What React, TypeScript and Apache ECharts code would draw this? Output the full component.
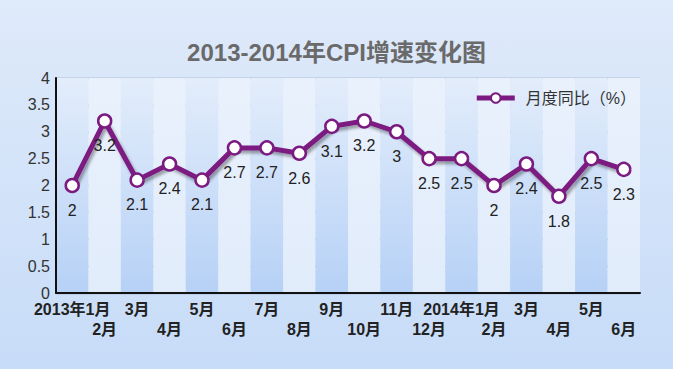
import React, { useEffect, useRef } from "react";
import * as echarts from "echarts";

const categories = [
  "2013年1月", "2月", "3月", "4月", "5月", "6月", "7月", "8月", "9月",
  "10月", "11月", "12月", "2014年1月", "2月", "3月", "4月", "5月", "6月",
];
const cpiValues = [2, 3.2, 2.1, 2.4, 2.1, 2.7, 2.7, 2.6, 3.1, 3.2, 3, 2.5, 2.5, 2, 2.4, 1.8, 2.5, 2.3];
const seriesName = "月度同比（%）";
const titleText = "2013-2014年CPI增速变化图";

export default function App() {
  const ref = useRef<HTMLDivElement>(null);
  useEffect(() => {
    if (!ref.current) return;
    const chart = echarts.init(ref.current, null, { renderer: "svg" });
    const G = echarts.graphic.LinearGradient;
    chart.setOption({
      animation: false,
      backgroundColor: new G(0, 0, 0, 1, [
        { offset: 0, color: "#dfeafa" },
        { offset: 1, color: "#c7dcf8" },
      ]),
      title: {
        text: titleText,
        left: "center",
        top: 35,
        textStyle: {
          fontFamily: "Liberation Sans, Noto Sans CJK SC",
          fontSize: 24,
          fontWeight: "bold",
          color: "#6a6a6a",
        },
      },
      legend: {
        right: 32,
        top: 85,
        itemWidth: 38,
        itemHeight: 12,
        itemGap: 12,
        lineStyle: { width: 5, color: "#7b1a80" },
        textStyle: {
          fontFamily: "Liberation Sans, Noto Sans CJK SC",
          fontSize: 16,
          color: "#333",
          padding: [0, 0, 0, 6],
        },
        data: [seriesName],
      },
      grid: { left: 56, right: 33, top: 78, bottom: 76 },
      xAxis: {
        type: "category",
        data: categories,
        boundaryGap: true,
        axisLine: { lineStyle: { color: "#111", width: 2 } },
        axisTick: { show: false },
        splitArea: {
          show: true,
          areaStyle: {
            color: [
              new G(0, 0, 0, 1, [
                { offset: 0, color: "#e3edfb" },
                { offset: 1, color: "#b6d1f6" },
              ]),
              new G(0, 0, 0, 1, [
                { offset: 0, color: "#e9f1fc" },
                { offset: 1, color: "#e1ecfb" },
              ]),
            ],
          },
        },
        axisLabel: {
          interval: 0,
          margin: 6,
          fontFamily: "Liberation Sans, Noto Sans CJK SC",
          fontSize: 16,
          fontWeight: "bold",
          color: "#222",
          lineHeight: 20,
          formatter: (v: string, i: number) => (i % 2 === 1 ? "\n" + v : v),
        },
      },
      yAxis: {
        type: "value",
        min: 0,
        max: 4,
        interval: 0.5,
        axisLine: { show: true, lineStyle: { color: "#111", width: 2 } },
        axisTick: { show: false },
        splitLine: { lineStyle: { color: "#8d9bb2", width: 1.3 } },
        axisLabel: {
          margin: 6,
          fontFamily: "Liberation Sans, Noto Sans",
          fontSize: 16,
          color: "#333",
        },
      },
      series: [
        {
          name: seriesName,
          type: "line",
          data: cpiValues,
          symbol: "circle",
          symbolSize: 13,
          itemStyle: { color: "#ffffff", borderColor: "#7b1a80", borderWidth: 2.5 },
          lineStyle: {
            color: "#7b1a80",
            width: 5,
            shadowColor: "rgba(0,0,0,0.35)",
            shadowBlur: 3,
            shadowOffsetX: 2,
            shadowOffsetY: 3,
          },
          label: {
            show: true,
            position: "bottom",
            distance: 9,
            fontFamily: "Liberation Sans, Noto Sans",
            fontSize: 16,
            color: "#222",
          },
          z: 3,
        },
      ],
    });
    return () => chart.dispose();
  }, []);
  return (
    <div
      ref={ref}
      style={{ position: "fixed", left: 0, top: 0, width: 673, height: 369 }}
    />
  );
}
